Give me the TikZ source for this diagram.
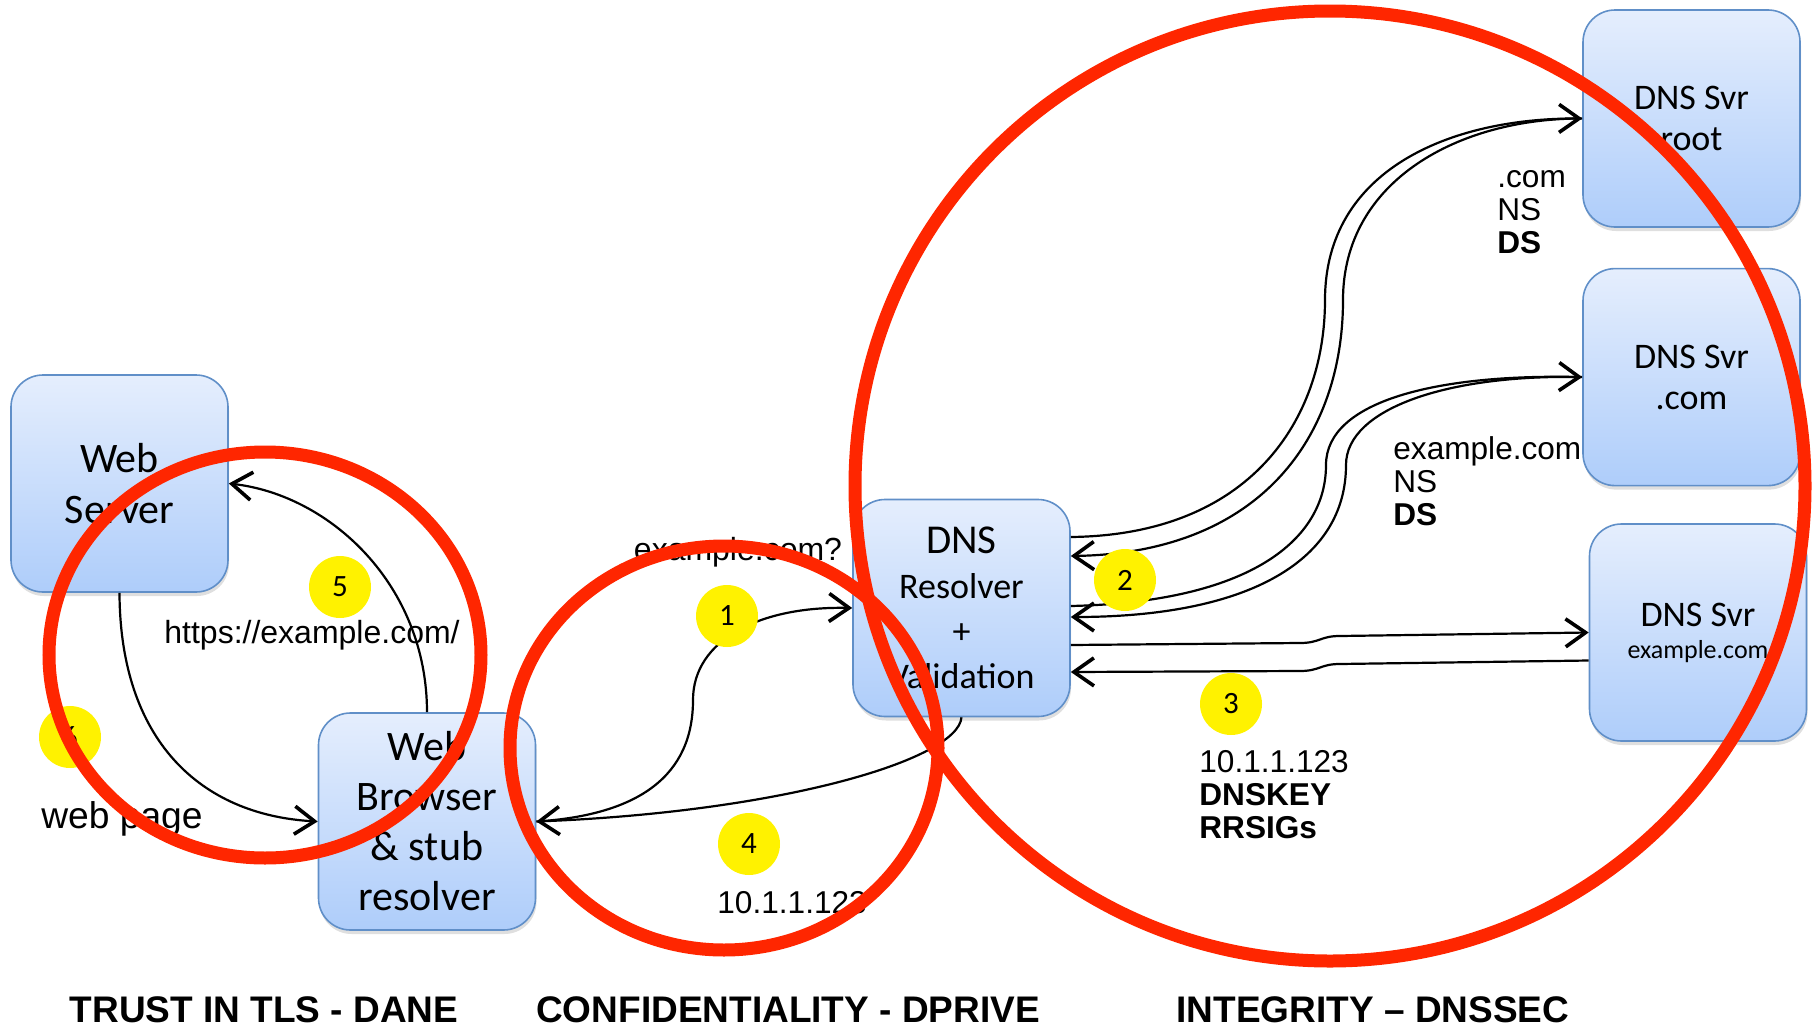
\documentclass[tikz,border=0pt]{standalone}
\usepackage{fontspec}
\setmainfont{Liberation Sans}
\newfontfamily\boxfont{Carlito}
\usetikzlibrary{arrows.meta, positioning, shadows}

\definecolor{boxtop}{RGB}{229,238,253}
\definecolor{boxbot}{RGB}{174,205,250}
\definecolor{boxline}{RGB}{96,143,200}
\definecolor{ringred}{RGB}{255,38,0}

\begin{document}
\begin{tikzpicture}[x=0.5pt, y=-0.5pt]
    \tikzstyle{server} = [rectangle, rounded corners=16pt, minimum width=108.5pt, minimum height=108.5pt, inner sep=0pt, align=center, draw=boxline, line width=0.8pt, top color=boxtop, bottom color=boxbot, drop shadow={shadow xshift=0.5pt, shadow yshift=-2pt, opacity=0.25}]
    \tikzstyle{num} = [circle, fill=yellow, minimum size=31pt, inner sep=0pt, font=\boxfont\fontsize{15.5pt}{18pt}\selectfont]
    \tikzstyle{lbl} = [inner sep=0pt, align=left, font=\fontsize{16pt}{16pt}\selectfont]
    \tikzstyle{answer} = [lbl, anchor=base west, font=\fontsize{15.8pt}{16.5pt}\selectfont]
    \tikzstyle{title} = [inner sep=0pt, anchor=base, font=\bfseries\fontsize{18.5pt}{20pt}\selectfont]
    \tikzstyle{arrow} = [line width=1.1pt, -{Straight Barb[length=10pt, width=14pt, line width=1.8pt]}]
    \tikzstyle{ring} = [draw=ringred, line width=6.5pt]

    \useasboundingbox (0,0) rectangle (1816,1028);

    % boxes
    \node (ws) [server, font=\boxfont\fontsize{21pt}{25.5pt}\selectfont] at (119.5,483.5) {Web\\Server};
    \node (wb) [server, font=\boxfont\fontsize{21pt}{25pt}\selectfont] at (427,821.5) {Web\\Browser\\\&~stub\\resolver};
    \node (res) [server, font=\boxfont\fontsize{18pt}{22.5pt}\selectfont] at (961.5,608) {{\fontsize{20.5pt}{22.5pt}\selectfont DNS}\\Resolver\\+\\Validation};
    \node (root) [server, font=\boxfont\fontsize{18pt}{20.5pt}\selectfont] at (1691.5,118.5) {DNS Svr\\root};
    \node (com) [server, font=\boxfont\fontsize{18pt}{20.5pt}\selectfont, below=20pt of root] {DNS Svr\\.com};
    \node (exa) [server, font=\boxfont\fontsize{18pt}{16pt}\selectfont] at (1698,632.5) {DNS Svr\\{\fontsize{13pt}{16pt}\selectfont example.com}};

    % web server <-> browser
    \draw [arrow] (ws.south) .. controls (120,740) and (200,815) .. (wb.west);
    \draw [arrow] (wb.north) .. controls (427,585) and (330,495) .. (ws.east);

    % browser <-> resolver
    \draw [arrow] (wb.east) .. controls (640,815) and (693,775) .. (693,700) .. controls (693,640) and (760,606) .. (res.west);
    \draw [arrow] (res.south) .. controls (958,760) and (780,812) .. (wb.east);

    % resolver <-> authoritative servers
    \draw [arrow] ([yshift=35.5pt]res.east) .. controls (1250,535) and (1325,420) .. (1325,300) .. controls (1325,170) and (1450,118) .. (root.west);
    \draw [arrow] (root.west) .. controls (1460,118) and (1343,180) .. (1343,300) .. controls (1343,435) and (1262,553) .. ([yshift=26pt]res.east);
    \draw [arrow] ([yshift=1pt]res.east) .. controls (1250,602) and (1326,540) .. (1326,465) .. controls (1326,400) and (1440,374) .. (com.west);
    \draw [arrow] (com.west) .. controls (1450,374) and (1346,408) .. (1346,465) .. controls (1346,560) and (1250,617) .. ([yshift=-4.5pt]res.east);
    \draw [arrow] ([yshift=-18.5pt]res.east) -- (1300,643) .. controls (1320,643) and (1320,636) .. (1340,636) -- (exa.west);
    \draw [arrow] ([yshift=-14pt]exa.west) -- (1340,664) .. controls (1320,664) and (1320,671) .. (1300,671) -- ([yshift=-32pt]res.east);

    % step numbers
    \node (n1) [num] at (727,616) {1};
    \node (n2) [num] at (1125,580) {2};
    \node (n3) [num] at (1231,704) {3};
    \node (n4) [num] at (749,844) {4};
    \node (n5) [num] at (340,587) {5};
    \node (n6) [num] at (70,737) {6};

    % labels
    \node (query) [lbl, anchor=base] at (738,560) {example.com?};
    \node (url) [lbl, anchor=base] at (312,643) {https://example.com/};
    \node (page) [lbl, anchor=base, font=\fontsize{18.6pt}{20pt}\selectfont] at (122,828) {web page};
    \node (addr) [lbl, anchor=base west, font=\fontsize{15.8pt}{16pt}\selectfont] at (717,913) {10.1.1.123};
    \node (rootans) [answer] at (1497,253) {.com\\NS\\\textbf{DS}};
    \node (comans) [answer] at (1393,525) {example.com\\NS\\\textbf{DS}};
    \node (exaans) [answer] at (1199,838) {10.1.1.123\\\textbf{DNSKEY}\\\textbf{RRSIGs}};

    % section titles
    \node (dane) [title] at (264,1022) {TRUST IN TLS - DANE};
    \node (dprive) [title] at (788,1022) {CONFIDENTIALITY - DPRIVE};
    \node (dnssec) [title] at (1373,1022) {INTEGRITY – DNSSEC};

    % red rings
    \draw [ring] (265,655) ellipse [x radius=108pt, y radius=101.5pt];
    \draw [ring] (724,748) ellipse [x radius=107pt, y radius=101pt];
    \draw [ring] (1330,486) ellipse [x radius=237.5pt, y radius=237.5pt];
\end{tikzpicture}
\end{document}
